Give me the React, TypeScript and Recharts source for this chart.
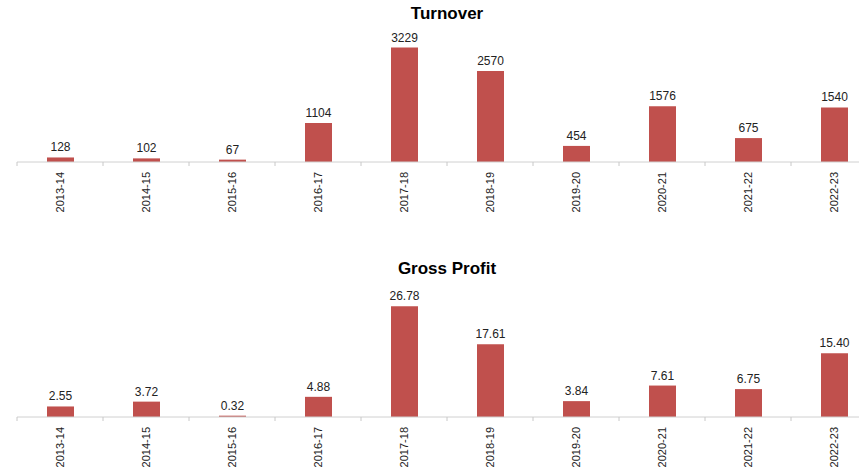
import { BarChart, Bar, XAxis, YAxis, LabelList } from 'recharts';

const years = ['2013-14', '2014-15', '2015-16', '2016-17', '2017-18', '2018-19', '2019-20', '2020-21', '2021-22', '2022-23'];
const turnover = [128, 102, 67, 1104, 3229, 2570, 454, 1576, 675, 1540];
const grossProfit = [2.55, 3.72, 0.32, 4.88, 26.78, 17.61, 3.84, 7.61, 6.75, 15.4];

const CHART_W = 900;
const MARGIN = { top: 38, right: 23, left: 17, bottom: 0 };
const BAND = (CHART_W - MARGIN.left - MARGIN.right) / years.length;
const FONT = 'Arial, "Liberation Sans", Helvetica, sans-serif';

// rotated year label plus tick marks on the category boundaries
function YearTick(props: any) {
  const { x, y, payload, index } = props;
  return (
    <g>
      <line x1={x - BAND / 2} y1={y - 8} x2={x - BAND / 2} y2={y - 4} stroke="#c8c8c8" />
      {index === years.length - 1 && (
        <line x1={x + BAND / 2} y1={y - 8} x2={x + BAND / 2} y2={y - 4} stroke="#c8c8c8" />
      )}
      <text
        x={0}
        y={0}
        transform={`translate(${x + 4},${y + 2}) rotate(-90)`}
        textAnchor="end"
        fontSize={11}
        fill="#222"
        fontFamily={FONT}
      >
        {payload.value}
      </text>
    </g>
  );
}

function Panel({ title, values, domain, fmt, top }: { title: string; values: number[]; domain: [number, number]; fmt: (v: number) => string; top: number }) {
  const data = years.map((year, i) => ({ year, value: values[i] }));
  return (
    <div style={{ position: 'absolute', left: 0, top, width: CHART_W, height: 230 }}>
      <div
        style={{
          position: 'absolute',
          left: MARGIN.left,
          width: CHART_W - MARGIN.left - MARGIN.right,
          top: 4,
          textAlign: 'center',
          fontFamily: FONT,
          fontWeight: 'bold',
          fontSize: 17,
          color: '#000',
        }}
      >
        {title}
      </div>
      <BarChart width={CHART_W} height={230} data={data} margin={MARGIN} barSize={27}>
        <XAxis
          dataKey="year"
          height={68}
          axisLine={{ stroke: '#d0d0d0' }}
          tickLine={false}
          interval={0}
          tick={<YearTick />}
        />
        <YAxis hide domain={domain} />
        <Bar dataKey="value" fill="#c0504d" isAnimationActive={false}>
          <LabelList
            dataKey="value"
            position="top"
            offset={6}
            formatter={(v: any) => fmt(Number(v))}
            style={{ fontSize: 12, fill: '#222', fontFamily: FONT }}
          />
        </Bar>
      </BarChart>
    </div>
  );
}

export default function App() {
  return (
    <div style={{ position: 'absolute', left: 0, top: 0, width: 859, height: 470, overflow: 'hidden', background: '#fff' }}>
      <Panel title="Turnover" values={turnover} domain={[0, 3500]} fmt={(v) => String(v)} top={0} />
      <Panel title="Gross Profit" values={grossProfit} domain={[0, 30]} fmt={(v) => v.toFixed(2)} top={255} />
    </div>
  );
}
